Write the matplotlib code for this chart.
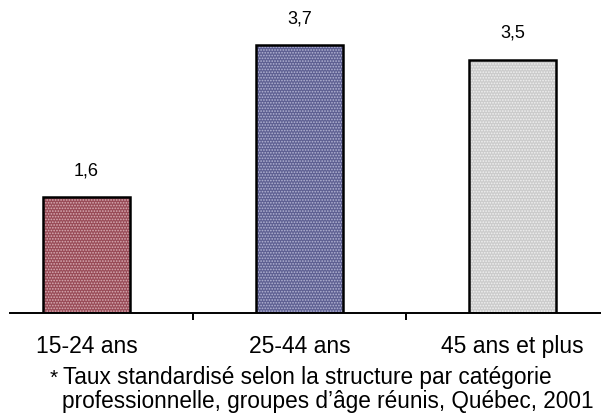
import matplotlib
matplotlib.use("Agg")
import matplotlib.pyplot as plt

categories = ["15-24 ans", "25-44 ans", "45 ans et plus"]
values = [1.6, 3.7, 3.5]
value_labels = ["1,6", "3,7", "3,5"]
footnote_line1 = "Taux standardisé selon la structure par catégorie"
footnote_line2 = "professionnelle, groupes d\u2019âge réunis, Québec, 2001"

base_colors = ["#984b57", "#5e6092", "#cbcbcb"]
dot_colors = ["#d9aeb5", "#b4b5d4", "#f0f0f0"]

plt.rcParams["font.family"] = ["Liberation Sans", "DejaVu Sans"]
plt.rcParams["hatch.linewidth"] = 0.8

fig = plt.figure(figsize=(6.01, 4.15), dpi=100)
W, H = 601, 415
# axes box in pixel terms: left 10, right 601, bottom 313, top 10
ax = fig.add_axes([10 / W, (H - 313) / H, 591 / W, 303 / H])

px_per_unit = 72.3
ax.set_ylim(0, 303 / px_per_unit)
ax.set_xlim(-0.359, 2.415)

x = list(range(len(categories)))
ax.bar(x, values, width=0.41, color=base_colors, edgecolor=dot_colors,
       linewidth=0, hatch="......", zorder=2)
ax.bar(x, values, width=0.41, fill=False, edgecolor="black",
       linewidth=1.8, zorder=3)

for xi, v, lab in zip(x, values, value_labels):
    ax.annotate(lab, xy=(xi, v), xytext=(0, 13), textcoords="offset points",
                ha="center", va="bottom", fontsize=13, color="black")

for side in ["top", "right", "left"]:
    ax.spines[side].set_visible(False)
ax.spines["bottom"].set_linewidth(1.4)
ax.set_yticks([])

ax.set_xticks([0.5, 1.5])
ax.set_xticklabels([])
ax.tick_params(axis="x", which="major", direction="out", length=5, width=1.4)
ax.set_xticks(x, minor=True)
ax.set_xticklabels(categories, minor=True, fontsize=16.5)
ax.tick_params(axis="x", which="minor", length=0, pad=16)

fig.text(50 / W, 1 - 384 / H, "*", fontsize=15, ha="left", va="baseline")
fig.text(63 / W, 1 - 384 / H, footnote_line1, fontsize=16.3, ha="left", va="baseline")
fig.text(62 / W, 1 - 408 / H, footnote_line2, fontsize=16.3, ha="left", va="baseline")

fig.savefig("out.png", dpi=100)
